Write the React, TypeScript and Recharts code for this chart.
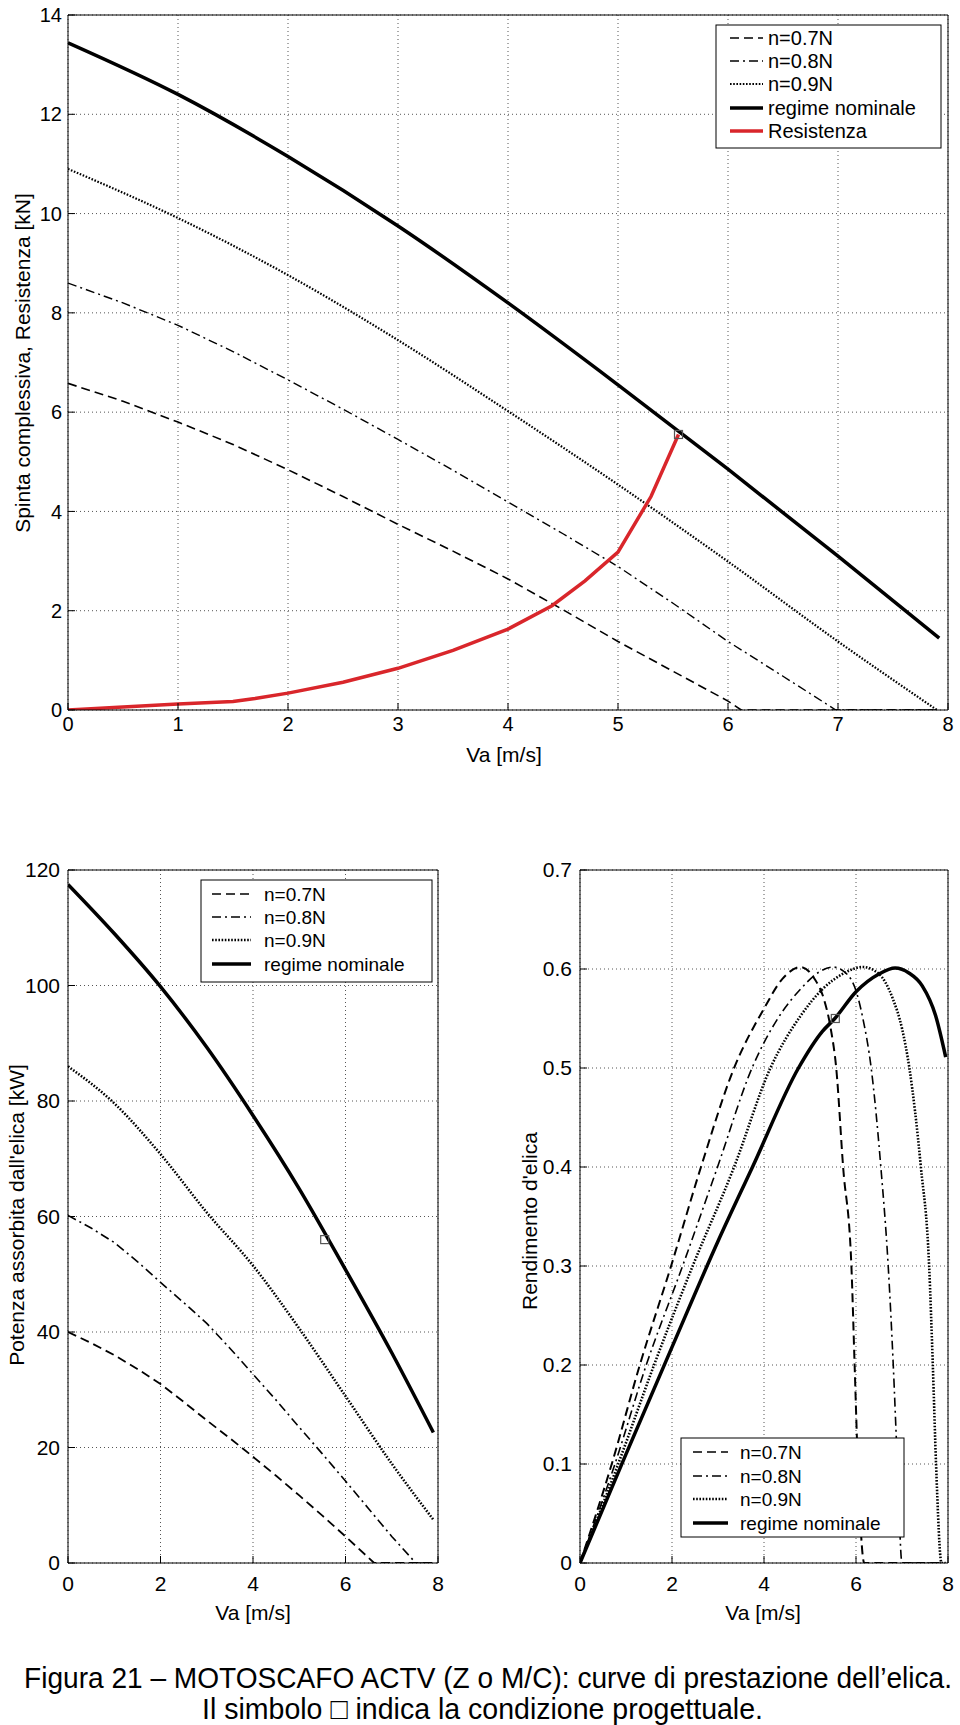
import React from 'react';
import { LineChart, Line, XAxis, YAxis, CartesianGrid, ReferenceDot } from 'recharts';

const FONT = '"Liberation Sans", Arial, Helvetica, sans-serif';

// ---- axis ticks
const vaTicksAll = [0, 1, 2, 3, 4, 5, 6, 7, 8];
const vaTicksEven = [0, 2, 4, 6, 8];
const thrustTicks = [0, 2, 4, 6, 8, 10, 12, 14];
const powerTicks = [0, 20, 40, 60, 80, 100, 120];
const effTicks = [0, 0.1, 0.2, 0.3, 0.4, 0.5, 0.6, 0.7];

const legendLabels = ['n=0.7N', 'n=0.8N', 'n=0.9N', 'regime nominale', 'Resistenza'];

// ---- design point (the small square)
const designVa = 5.55;
const designThrust = 5.55;
const designPower = 56;
const designEff = 0.55;

// ---- thrust / resistance [kN]
const vaT07 = [0, 0.5, 1, 1.5, 2, 2.5, 3, 3.5, 4, 4.5, 5, 5.5, 6, 6.12, 7, 7.9];
const thrust07 = [6.58, 6.22, 5.8, 5.35, 4.84, 4.3, 3.74, 3.2, 2.64, 2.02, 1.38, 0.78, 0.18, 0, 0, 0];
const vaT08 = [0, 0.5, 1, 1.5, 2, 2.5, 3, 3.5, 4, 4.5, 5, 5.5, 6, 6.5, 6.98, 7.9];
const thrust08 = [8.6, 8.2, 7.75, 7.22, 6.65, 6.06, 5.45, 4.83, 4.19, 3.55, 2.89, 2.15, 1.38, 0.68, 0, 0];
const vaT09 = [0, 1, 2, 3, 4, 5, 6, 7, 7.9];
const thrust09 = [10.9, 9.91, 8.76, 7.45, 6.02, 4.54, 2.99, 1.38, 0];
const vaTnom = [0, 1, 2, 3, 4, 5, 6, 7, 7.92];
const thrustNom = [13.44, 12.4, 11.15, 9.75, 8.2, 6.55, 4.85, 3.1, 1.45];
const vaRes = [0, 0.5, 1, 1.5, 1.7, 2, 2.5, 3, 3.5, 4, 4.4, 4.7, 5, 5.3, 5.55];
const resistance = [0, 0.06, 0.12, 0.17, 0.23, 0.34, 0.56, 0.84, 1.2, 1.63, 2.1, 2.6, 3.18, 4.3, 5.55];

// ---- absorbed power [kW]
const vaP = [0, 1, 2, 3, 4, 5, 6, 7, 7.9];
const powerNom = [117.5, 109, 99.8, 89.3, 77.5, 64.8, 50.8, 36.4, 22.6];
const power09 = [86, 79.6, 70.8, 60.7, 51.5, 40.6, 28.9, 17.2, 7.5];
const vaP08 = [0, 0.5, 1, 1.5, 2, 2.5, 3, 3.5, 4, 4.5, 5, 5.5, 6, 6.5, 7, 7.52, 7.9];
const power08 = [60.2, 58, 55.5, 52.2, 48.6, 45.1, 41.5, 37.2, 32.7, 28.2, 23.5, 18.9, 14.2, 9.4, 4.6, 0, 0];
const vaP07 = [0, 0.5, 1, 1.5, 2, 2.5, 3, 3.5, 4, 4.5, 5, 5.5, 6, 6.62, 7.9];
const power07 = [40, 38.1, 36, 33.6, 31, 27.9, 24.7, 21.6, 18.4, 15.1, 11.7, 8.2, 4.6, 0, 0];

// ---- propeller efficiency
const vaE07 = [0, 0.69, 1.3, 1.98, 2.63, 3.35, 4, 4.4, 4.8, 5.1, 5.3, 5.45, 5.57, 5.72, 5.9, 5.97, 6.04, 6.18, 7.9];
const eff07 = [0, 0.1, 0.2, 0.3, 0.4, 0.5, 0.56, 0.59, 0.602, 0.59, 0.57, 0.54, 0.5, 0.4, 0.3, 0.2, 0.1, 0, 0];
const vaE08 = [0, 0.76, 1.44, 2.23, 2.99, 3.74, 4.3, 4.8, 5.2, 5.5, 5.8, 6.0, 6.15, 6.33, 6.54, 6.7, 6.81, 6.9, 7.0, 7.9];
const eff08 = [0, 0.1, 0.2, 0.3, 0.4, 0.5, 0.55, 0.58, 0.597, 0.602, 0.595, 0.578, 0.55, 0.5, 0.4, 0.3, 0.2, 0.1, 0, 0];
const vaE09 = [0, 0.83, 1.61, 2.45, 3.35, 4.14, 4.8, 5.28, 5.71, 6.15, 6.5, 6.8, 7.0, 7.16, 7.41, 7.59, 7.67, 7.74, 7.86, 7.95];
const eff09 = [0, 0.1, 0.2, 0.3, 0.4, 0.5, 0.553, 0.58, 0.595, 0.602, 0.595, 0.57, 0.54, 0.5, 0.4, 0.3, 0.2, 0.1, 0, 0];
const vaEnom = [0, 1, 2, 3, 3.75, 4.75, 5.27, 5.54, 6, 6.5, 6.85, 7.15, 7.44, 7.73, 7.95];
const effNom = [0, 0.11, 0.218, 0.325, 0.4, 0.5, 0.537, 0.55, 0.577, 0.595, 0.601, 0.596, 0.583, 0.553, 0.511];

type Style = { stroke: string; width: number; dash?: string };
const STYLE: Record<string, Style> = {
  n07: { stroke: '#000', width: 1.6, dash: '9 5' },
  n08: { stroke: '#000', width: 1.4, dash: '9 4 2 4' },
  n09: { stroke: '#000', width: 2.2, dash: '1.6 1.6' },
  nom: { stroke: '#000', width: 3.5 },
  res: { stroke: '#d9262b', width: 3.5 },
};
const KEYS = ['n07', 'n08', 'n09', 'nom', 'res'];

const pts = (xs: number[], ys: number[]) => xs.map((x, i) => ({ x, y: ys[i] }));

type Series = { key: string; xs: number[]; ys: number[]; curve?: 'monotone' | 'linear'; width?: number };
type Rect = { x: number; y: number; w: number; h: number };

const DesignSquare = (p: any) => (
  <rect x={p.cx - 4} y={p.cy - 4} width={8} height={8} fill="none" stroke="#555" strokeWidth={1.2} />
);

function Panel(props: {
  box: Rect;
  plot: { x0: number; x1: number; y0: number; y1: number };
  xTicks: number[];
  yTicks: number[];
  yMax: number;
  series: Series[];
  design: { x: number; y: number };
  fontSize: number;
  xMargin: number;
  yMargin: number;
}) {
  const { box, plot, xTicks, yTicks, yMax, series, design, fontSize, xMargin, yMargin } = props;
  // every axis is 1px thick, so the plot area lands on the given edges
  const margin = {
    top: plot.y0 - box.y - 1,
    left: plot.x0 - box.x - 1,
    right: box.x + box.w - plot.x1 - 1,
    bottom: box.y + box.h - plot.y1 - 1,
  };
  const tick = { fontSize, fill: '#000', fontFamily: FONT };
  const line = { stroke: '#000', strokeWidth: 1 };
  return (
    <div style={{ position: 'absolute', left: box.x, top: box.y }}>
      <LineChart width={box.w} height={box.h} margin={margin}>
        <CartesianGrid stroke="#555" strokeDasharray="1 3" />
        <XAxis xAxisId={0} type="number" dataKey="x" domain={[0, 8]} ticks={xTicks} interval={0}
          allowDataOverflow height={1} tickSize={-7} tickMargin={xMargin} tick={tick}
          axisLine={line} tickLine={line} />
        <XAxis xAxisId="top" orientation="top" type="number" dataKey="x" domain={[0, 8]} ticks={xTicks}
          interval={0} allowDataOverflow height={1} tickSize={-7} tick={false} axisLine={line} tickLine={line} />
        <YAxis yAxisId={0} type="number" domain={[0, yMax]} ticks={yTicks} interval={0}
          allowDataOverflow width={1} tickSize={-7} tickMargin={yMargin} tick={tick}
          axisLine={line} tickLine={line} />
        <YAxis yAxisId="right" orientation="right" type="number" domain={[0, yMax]} ticks={yTicks}
          interval={0} allowDataOverflow width={1} tickSize={-7} tick={false} axisLine={line} tickLine={line} />
        {series.map(s => {
          const st = STYLE[s.key];
          return (
            <Line key={s.key} data={pts(s.xs, s.ys)} dataKey="y" type={s.curve || 'monotone'}
              stroke={st.stroke} strokeWidth={s.width || st.width} strokeDasharray={st.dash}
              dot={false} activeDot={false} isAnimationActive={false} />
          );
        })}
        <ReferenceDot x={design.x} y={design.y} r={4} shape={DesignSquare} />
      </LineChart>
    </div>
  );
}

function LegendBox(props: {
  x: number; y: number; w: number; h: number; rows: number[];
  sx0: number; sx1: number; tx: number; fontSize: number; count: number; dotW?: number;
}) {
  const { x, y, w, h, rows, sx0, sx1, tx, fontSize, count, dotW } = props;
  return (
    <g>
      <rect x={x} y={y} width={w} height={h} fill="#fff" stroke="#000" strokeWidth={1} />
      {KEYS.slice(0, count).map((k, i) => {
        const st = STYLE[k];
        return (
          <g key={k}>
            <line x1={sx0} x2={sx1} y1={rows[i]} y2={rows[i]} stroke={st.stroke}
              strokeWidth={k === 'n09' && dotW ? dotW : st.width} strokeDasharray={st.dash} />
            <text x={tx} y={rows[i]} dominantBaseline="central" fontSize={fontSize} fontFamily={FONT}>
              {legendLabels[i]}
            </text>
          </g>
        );
      })}
    </g>
  );
}

const Overlay = () => (
  <svg width={960} height={1725} style={{ position: 'absolute', left: 0, top: 0 }}>
    <LegendBox x={716} y={25} w={225} h={123} rows={[38, 61, 84, 108, 131]} sx0={730} sx1={763} tx={768}
      fontSize={20} count={5} />
    <LegendBox x={201} y={880} w={231} h={102} rows={[894, 917, 940, 964]} sx0={212} sx1={251} tx={264}
      fontSize={19} count={4} dotW={2.5} />
    <LegendBox x={681} y={1438} w={223} h={99} rows={[1452, 1476, 1499, 1523]} sx0={693} sx1={728} tx={740}
      fontSize={19} count={4} dotW={2.5} />

    <g fontFamily={FONT} fontSize={21} fill="#000" textAnchor="middle">
      <text x={22} y={363} dominantBaseline="central" transform="rotate(-90 22 363)">
        Spinta complessiva, Resistenza [kN]
      </text>
      <text x={504} y={754} dominantBaseline="central">Va [m/s]</text>
      <text x={16} y={1215} dominantBaseline="central" transform="rotate(-90 16 1215)">
        Potenza assorbita dall'elica [kW]
      </text>
      <text x={253} y={1612} dominantBaseline="central">Va [m/s]</text>
      <text x={529} y={1221} dominantBaseline="central" transform="rotate(-90 529 1221)">
        Rendimento d'elica
      </text>
      <text x={763} y={1612} dominantBaseline="central">Va [m/s]</text>
    </g>
    <g fontFamily={FONT} fontSize={30} fill="#000">
      <text x={24} y={1677} dominantBaseline="central" textLength={928} lengthAdjust="spacingAndGlyphs">
        Figura 21 – MOTOSCAFO ACTV (Z o M/C): curve di prestazione dell’elica.
      </text>
      <text x={202} y={1708} dominantBaseline="central" textLength={561} lengthAdjust="spacingAndGlyphs">
        Il simbolo □ indica la condizione progettuale.
      </text>
    </g>
  </svg>
);

export default function App() {
  const thrustSeries: Series[] = [
    { key: 'n07', xs: vaT07, ys: thrust07, curve: 'linear' },
    { key: 'n08', xs: vaT08, ys: thrust08, curve: 'linear' },
    { key: 'n09', xs: vaT09, ys: thrust09 },
    { key: 'nom', xs: vaTnom, ys: thrustNom },
    { key: 'res', xs: vaRes, ys: resistance, curve: 'linear' },
  ];
  const powerSeries: Series[] = [
    { key: 'n07', xs: vaP07, ys: power07, width: 1.8, curve: 'linear' },
    { key: 'n08', xs: vaP08, ys: power08, width: 1.6, curve: 'linear' },
    { key: 'n09', xs: vaP, ys: power09, width: 2.6 },
    { key: 'nom', xs: vaP, ys: powerNom },
  ];
  const effSeries: Series[] = [
    { key: 'n07', xs: vaE07, ys: eff07, width: 2 },
    { key: 'n08', xs: vaE08, ys: eff08, width: 1.6 },
    { key: 'n09', xs: vaE09, ys: eff09, width: 2.6 },
    { key: 'nom', xs: vaEnom, ys: effNom },
  ];

  return (
    <div style={{ position: 'absolute', left: 0, top: 0, width: 960, height: 1725, background: '#fff', fontFamily: FONT }}>
      <Panel box={{ x: 0, y: 0, w: 960, h: 790 }} plot={{ x0: 68, x1: 948, y0: 15, y1: 710 }}
        xTicks={vaTicksAll} yTicks={thrustTicks} yMax={14} series={thrustSeries}
        design={{ x: designVa, y: designThrust }} fontSize={20} xMargin={14} yMargin={13} />
      <Panel box={{ x: 0, y: 850, w: 480, h: 770 }} plot={{ x0: 68, x1: 438, y0: 870, y1: 1563 }}
        xTicks={vaTicksEven} yTicks={powerTicks} yMax={120} series={powerSeries}
        design={{ x: designVa, y: designPower }} fontSize={21} xMargin={20} yMargin={15} />
      <Panel box={{ x: 480, y: 850, w: 480, h: 770 }} plot={{ x0: 580, x1: 948, y0: 870, y1: 1563 }}
        xTicks={vaTicksEven} yTicks={effTicks} yMax={0.7} series={effSeries}
        design={{ x: designVa, y: designEff }} fontSize={21} xMargin={20} yMargin={15} />
      <Overlay />
    </div>
  );
}
